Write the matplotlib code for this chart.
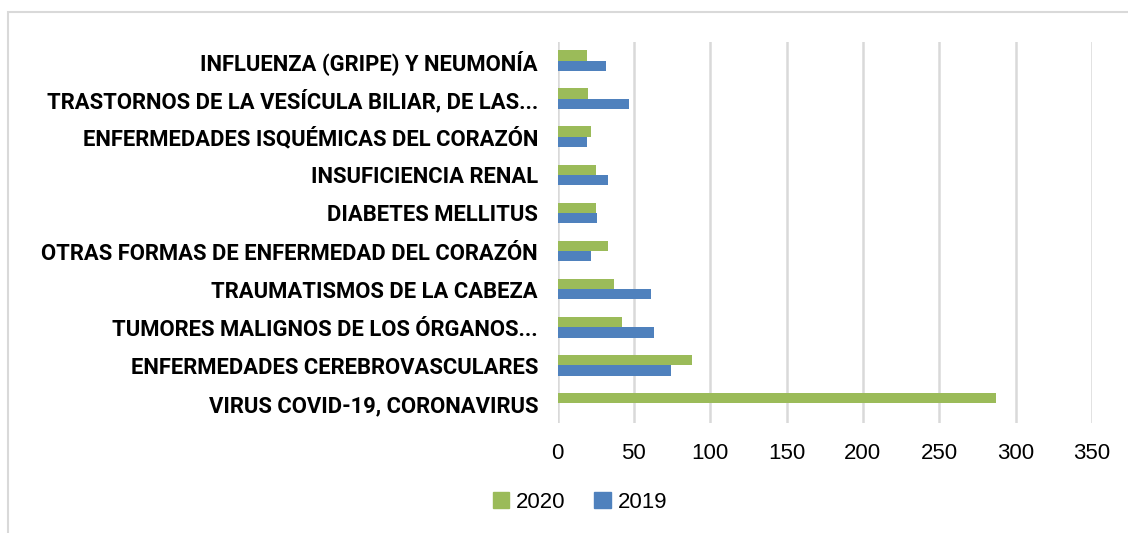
import matplotlib
matplotlib.use("Agg")
import matplotlib.pyplot as plt
from matplotlib.patches import Rectangle, Patch
import numpy as np

# categories listed bottom -> top, as they appear on the chart
CATEGORIES = [
    "VIRUS COVID-19, CORONAVIRUS",
    "ENFERMEDADES CEREBROVASCULARES",
    "TUMORES MALIGNOS DE LOS ÓRGANOS...",
    "TRAUMATISMOS DE LA CABEZA",
    "OTRAS FORMAS DE ENFERMEDAD DEL CORAZÓN",
    "DIABETES MELLITUS",
    "INSUFICIENCIA RENAL",
    "ENFERMEDADES ISQUÉMICAS DEL CORAZÓN",
    "TRASTORNOS DE LA VESÍCULA BILIAR, DE LAS...",
    "INFLUENZA (GRIPE) Y NEUMONÍA",
]
VALUES_2020 = [287, 88, 42, 37, 33, 25, 25, 22, 20, 19]
VALUES_2019 = [0, 74, 63, 61, 22, 26, 33, 19, 47, 32]
X_TICKS = [0, 50, 100, 150, 200, 250, 300, 350]

GREEN = "#9BBB59"
BLUE = "#4F81BD"
GRID = "#D9D9D9"

W, H = 1128, 533
fig = plt.figure(figsize=(W / 100, H / 100), dpi=100)

# light outer frame of the chart area (runs off the right and bottom edges)
fig.patches.append(Rectangle((8 / W, -0.1), 1.2, 1.1 - 12 / H, transform=fig.transFigure,
                             fill=False, edgecolor=GRID, linewidth=1.5))

ax = fig.add_axes([557.5 / W, 1 - 422.5 / H, 534.5 / W, 381 / H])

y = np.arange(len(CATEGORIES))
h = 0.27
ax.barh(y + h / 2, VALUES_2020, height=h, color=GREEN, label="2020", zorder=3)
ax.barh(y - h / 2, VALUES_2019, height=h, color=BLUE, label="2019", zorder=3)

ax.set_xlim(0, 350)
ax.set_ylim(-0.5, len(CATEGORIES) - 0.5)
ax.set_xticks(X_TICKS)
ax.set_xticklabels([str(t) for t in X_TICKS], fontsize=16, family="Liberation Sans")
ax.set_yticks(y)
ax.set_yticklabels(CATEGORIES, fontsize=15.8, fontweight="bold", family="Roboto")
ax.tick_params(axis="both", length=0)
ax.tick_params(axis="x", pad=15)
ax.tick_params(axis="y", pad=14)
ax.xaxis.grid(True, color=GRID, linewidth=1.8, zorder=0)
for s in ax.spines.values():
    s.set_visible(False)

handles = [Patch(color=GREEN, label="2020"), Patch(color=BLUE, label="2019")]
fig.legend(handles=handles, loc="center", bbox_to_anchor=(580 / W, 1 - 502 / H),
           ncol=2, frameon=False, handlelength=0.75, handleheight=0.75,
           handletextpad=0.3, columnspacing=1.3,
           prop={"family": "Liberation Sans", "size": 16})

fig.savefig("out.png", dpi=100)
